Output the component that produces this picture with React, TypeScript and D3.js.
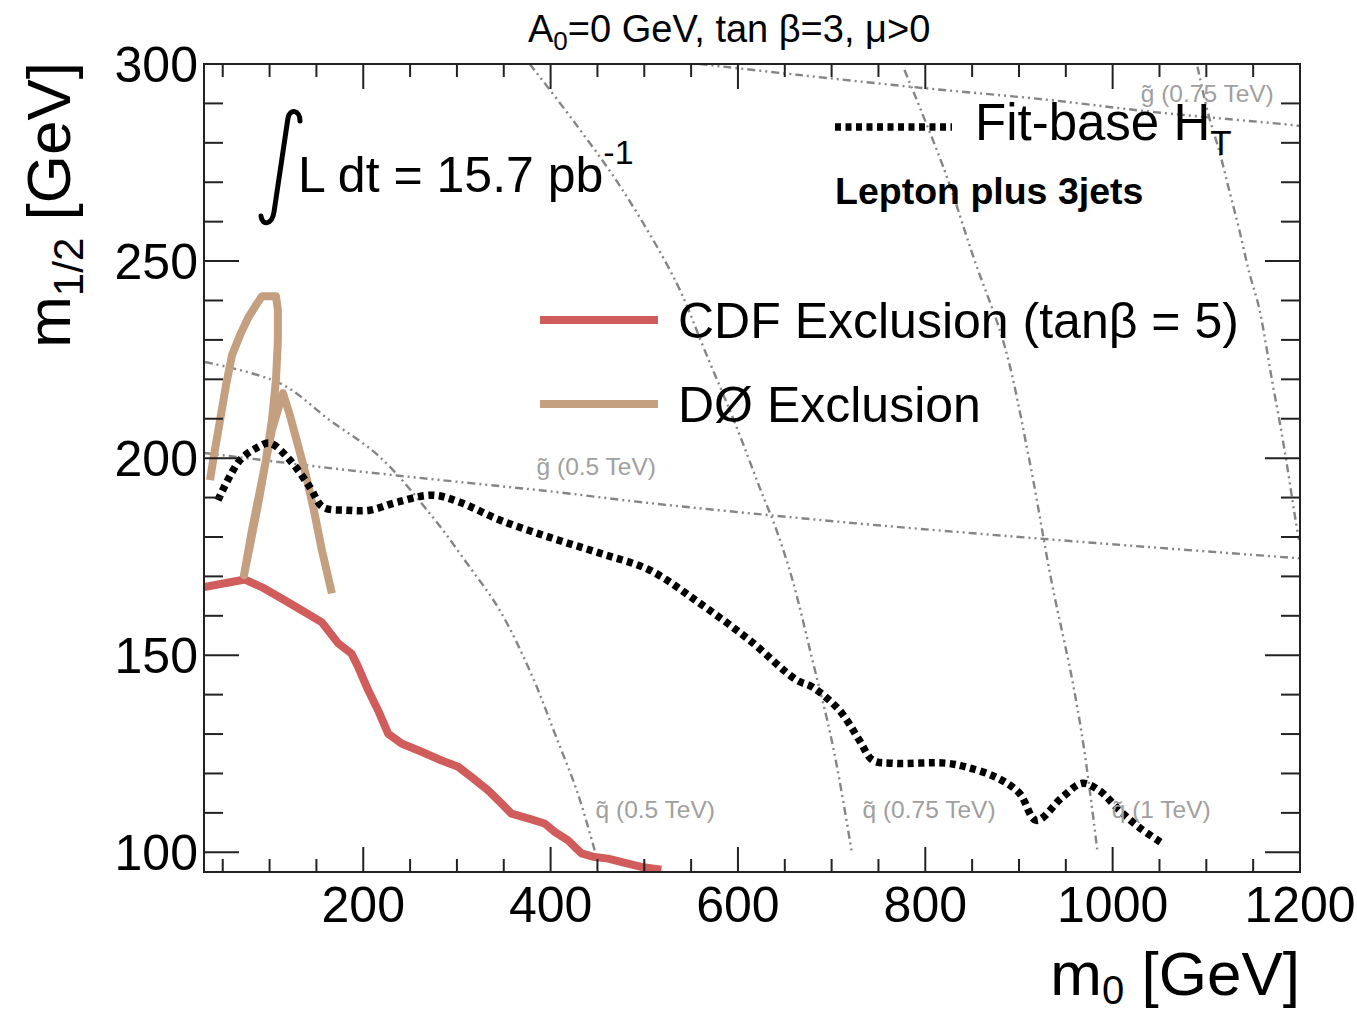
import React, { useEffect, useRef } from "react";
import * as d3 from "d3";

// exclusion contours, [m0, m1/2] in GeV
const cdfExclusion: [number, number][] = [
  [30.3, 167.3], [73.7, 169.2], [91.5, 167.3], [112.9, 164.4], [134.2, 161.4],
  [155.5, 158.4], [162.6, 156.3], [173.3, 153.0], [187.5, 150.4], [194.6, 147.0],
  [205.3, 141.1], [215.9, 136.0], [226.6, 130.1], [240.9, 127.6], [262.2, 125.5],
  [283.5, 123.3], [301.3, 121.7], [315.5, 119.1], [333.3, 115.7], [347.5, 112.4],
  [358.2, 109.8], [375.9, 108.6], [393.7, 107.3], [404.4, 105.2], [418.6, 103.0],
  [432.9, 99.7], [447.1, 98.8], [461.3, 98.4], [482.6, 97.1], [496.9, 96.3],
  [518.2, 95.6],
];

const d0Exclusion: [number, number][] = [
  [36.4, 194.4], [40.7, 200.8], [47.1, 209.6], [53.5, 218.5], [59.9, 226.1],
  [68.4, 231.2], [76.9, 235.5], [85.5, 238.8], [91.9, 241.1], [106.8, 241.1],
  [108.9, 237.6], [108.9, 230.0], [106.8, 219.8], [102.5, 209.6], [96.1, 199.5],
  [87.6, 188.1], [79.1, 177.9], [72.7, 170.3], [81.2, 181.7], [91.9, 194.4],
  [102.5, 207.1], [114.3, 216.5], [121.7, 210.9], [130.3, 203.3], [138.8, 195.7],
  [147.3, 186.8], [155.9, 176.6], [166.5, 165.7],
];

const fitBaseHT: [number, number][] = [
  [44.9, 189.3], [68.4, 199.5], [87.6, 202.8], [100.4, 203.8], [121.7, 199.5],
  [143.1, 192.6], [156.9, 187.6], [182.5, 186.8], [207.1, 186.8], [235.9, 188.8],
  [274.3, 190.6], [303.1, 188.8], [345.7, 184.3], [399.1, 179.9], [452.4, 175.9],
  [505.7, 171.6], [559.1, 163.2], [612.4, 153.8], [662.5, 143.7], [679.6, 141.9],
  [708.4, 136.0], [729.7, 128.4], [743.6, 123.4], [764.9, 122.6], [822.5, 122.6],
  [843.9, 121.6], [875.9, 119.0], [900.4, 115.0], [918.5, 108.1], [946.3, 114.0],
  [967.6, 117.5], [985.7, 115.7], [1007.1, 110.7], [1028.4, 106.3], [1052.9, 102.3],
];

// iso-mass reference lines
const gluino500: [number, number][] = [
  [31, 201.3], [185.7, 196.9], [345.7, 192.9], [399, 191.6], [505.7, 188.6],
  [665.7, 184.8], [772.4, 182.5], [985.7, 178.4], [1199, 174.6],
];
const gluino750: [number, number][] = [
  [559.1, 300], [665.7, 297.2], [798, 293.9], [931.3, 290.9], [1044.4, 287.8],
  [1192.7, 284.5], [1199, 284.3],
];
const squark500: [number, number][] = [
  [31.1, 224.4], [111.1, 219.0], [164.4, 209.6], [217.7, 200.3], [274.3, 185.0],
  [310.5, 173.4], [345.7, 161.4], [380.9, 144.4], [404.4, 130.2], [428.9, 115.0],
  [447.1, 100.5],
];
const squark750: [number, number][] = [
  [377.7, 300], [423.6, 285.8], [476.9, 268.0], [534.5, 244.4], [564.4, 227.4],
  [598.5, 207.9], [623.1, 192.6], [641.2, 181.7], [658.3, 169.0], [679.6, 148.7],
  [697.7, 131.0], [708.4, 118.3], [721.2, 100.5],
];
const squark1000: [number, number][] = [
  [777.7, 298.5], [820.4, 273.1], [852.4, 250.3], [884.4, 228.7], [911.1, 199.5],
  [934.5, 169.0], [956.9, 143.7], [969.7, 125.9], [983.6, 100.5],
];
const squark1250: [number, number][] = [
  [1090.6, 299.3], [1101.3, 288.0], [1113.7, 278.0], [1124.4, 268.0], [1135.1, 258.0],
  [1145.7, 247.2], [1156.4, 238.1], [1163.5, 229.0], [1170.6, 219.1], [1177.7, 210.0],
  [1184.9, 200.0], [1192.0, 189.2], [1195.6, 183.8], [1199, 179.2],
];

const refLabels = [
  { text: "g\u0303 (0.5 TeV)", m0: 385, m12: 195.8 },
  { text: "g\u0303 (0.75 TeV)", m0: 1030, m12: 290.4 },
  { text: "q\u0303 (0.5 TeV)", m0: 448, m12: 108.7 },
  { text: "q\u0303 (0.75 TeV)", m0: 733, m12: 108.7 },
  { text: "q\u0303 (1 TeV)", m0: 999, m12: 108.7 },
];

const xTickLabels = [200, 400, 600, 800, 1000, 1200];
const yTickLabels = [100, 150, 200, 250, 300];

const FONT = "'Liberation Sans', Arial, Helvetica, sans-serif";
const RED = "#d05c5c";
const TAN = "#c4a080";
const GREY = "#858585";

export default function App() {
  const ref = useRef<SVGSVGElement | null>(null);

  useEffect(() => {
    const svg = d3.select(ref.current);
    svg.selectAll("*").remove();

    const x = d3.scaleLinear().domain([30, 1200]).range([204, 1300]);
    const y = d3.scaleLinear().domain([95, 300]).range([872, 64]);
    const [x0, x1] = x.range();
    const [y1, y0] = y.range();

    svg
      .append("defs")
      .append("clipPath")
      .attr("id", "plot-clip")
      .append("rect")
      .attr("x", x0)
      .attr("y", y0)
      .attr("width", x1 - x0)
      .attr("height", y1 - y0);

    const plot = svg.append("g").attr("clip-path", "url(#plot-clip)");

    const smooth = d3
      .line<[number, number]>()
      .x((d) => x(d[0]))
      .y((d) => y(d[1]))
      .curve(d3.curveCatmullRom);
    const straight = d3
      .line<[number, number]>()
      .x((d) => x(d[0]))
      .y((d) => y(d[1]));

    // grey dash-dot reference lines
    [gluino500, gluino750, squark500, squark750, squark1000, squark1250].forEach((pts) => {
      plot
        .append("path")
        .attr("d", smooth(pts))
        .attr("fill", "none")
        .attr("stroke", GREY)
        .attr("stroke-width", 2.4)
        .attr("stroke-dasharray", "8 4 2 4 2 4");
    });

    plot
      .append("path")
      .attr("d", straight(cdfExclusion))
      .attr("fill", "none")
      .attr("stroke", RED)
      .attr("stroke-width", 8)
      .attr("stroke-linejoin", "round");

    plot
      .append("path")
      .attr("d", straight(d0Exclusion))
      .attr("fill", "none")
      .attr("stroke", TAN)
      .attr("stroke-width", 8)
      .attr("stroke-linejoin", "round");

    plot
      .append("path")
      .attr("d", smooth(fitBaseHT))
      .attr("fill", "none")
      .attr("stroke", "#000")
      .attr("stroke-width", 7.5)
      .attr("stroke-dasharray", "6 4.5");

    // grey labels of the reference lines
    svg
      .append("g")
      .selectAll("text")
      .data(refLabels)
      .join("text")
      .attr("x", (d) => x(d.m0))
      .attr("y", (d) => y(d.m12))
      .attr("font-family", FONT)
      .attr("font-size", 24.5)
      .attr("fill", "#a0a0a0")
      .text((d) => d.text);

    // frame
    svg
      .append("rect")
      .attr("x", x0)
      .attr("y", y0)
      .attr("width", x1 - x0)
      .attr("height", y1 - y0)
      .attr("fill", "none")
      .attr("stroke", "#222")
      .attr("stroke-width", 2);

    // ticks on all four sides
    const ticks = svg.append("g").attr("stroke", "#222").attr("stroke-width", 2);
    d3.range(50, 1201, 50).forEach((v) => {
      const len = v % 200 === 0 ? 25 : 13;
      ticks.append("line").attr("x1", x(v)).attr("x2", x(v)).attr("y1", y1).attr("y2", y1 - len);
      ticks.append("line").attr("x1", x(v)).attr("x2", x(v)).attr("y1", y0).attr("y2", y0 + len);
    });
    d3.range(100, 301, 10).forEach((v) => {
      const len = v % 50 === 0 ? 35 : 19;
      ticks.append("line").attr("x1", x0).attr("x2", x0 + len).attr("y1", y(v)).attr("y2", y(v));
      ticks.append("line").attr("x1", x1).attr("x2", x1 - len).attr("y1", y(v)).attr("y2", y(v));
    });

    const labels = svg.append("g").attr("font-family", FONT).attr("font-size", 50).attr("fill", "#000");
    labels
      .selectAll(".xl")
      .data(xTickLabels)
      .join("text")
      .attr("x", (d) => x(d))
      .attr("y", 922)
      .attr("text-anchor", "middle")
      .text((d) => d);
    labels
      .selectAll(".yl")
      .data(yTickLabels)
      .join("text")
      .attr("x", 198)
      .attr("y", (d) => y(d) + 18)
      .attr("text-anchor", "end")
      .text((d) => d);

    // axis titles
    const xt = svg
      .append("text")
      .attr("x", 1300)
      .attr("y", 995)
      .attr("text-anchor", "end")
      .attr("font-family", FONT)
      .attr("font-size", 62);
    xt.append("tspan").text("m");
    xt.append("tspan").attr("font-size", 40).attr("dy", 9).text("0");
    xt.append("tspan").attr("dy", -9).text(" [GeV]");

    const yt = svg
      .append("text")
      .attr("transform", "translate(70,62) rotate(-90)")
      .attr("text-anchor", "end")
      .attr("font-family", FONT)
      .attr("font-size", 62);
    yt.append("tspan").text("m");
    yt.append("tspan").attr("font-size", 42).attr("dy", 13).text("1/2");
    yt.append("tspan").attr("dy", -13).text(" [GeV]");

    // header
    const title = svg
      .append("text")
      .attr("x", 528)
      .attr("y", 42)
      .attr("font-family", FONT)
      .attr("font-size", 38);
    title.append("tspan").text("A");
    title.append("tspan").attr("font-size", 26).attr("dy", 8).text("0");
    title.append("tspan").attr("dy", -8).text("=0 GeV, tan \u03b2=3, \u03bc>0");

    // luminosity
    svg
      .append("path")
      .attr("d", "M 300 121 C 300 110, 290 108, 288 118 L 274 212 C 272 225, 262 226, 261 216")
      .attr("fill", "none")
      .attr("stroke", "#000")
      .attr("stroke-width", 5)
      .attr("stroke-linecap", "round");
    const lumi = svg
      .append("text")
      .attr("x", 298)
      .attr("y", 192)
      .attr("font-family", FONT)
      .attr("font-size", 50);
    lumi.append("tspan").text("L dt = 15.7 pb");
    lumi.append("tspan").attr("font-size", 34).attr("dy", -28).text("-1");

    // legend
    svg
      .append("line")
      .attr("x1", 835)
      .attr("x2", 952)
      .attr("y1", 127)
      .attr("y2", 127)
      .attr("stroke", "#000")
      .attr("stroke-width", 7.5)
      .attr("stroke-dasharray", "6 4.5");
    const fit = svg
      .append("text")
      .attr("x", 975)
      .attr("y", 140)
      .attr("font-family", FONT)
      .attr("font-size", 51);
    fit.append("tspan").text("Fit-base H");
    fit.append("tspan").attr("font-size", 35).attr("dy", 15).text("T");

    svg
      .append("text")
      .attr("x", 835)
      .attr("y", 204)
      .attr("font-family", FONT)
      .attr("font-weight", "bold")
      .attr("font-size", 37.5)
      .text("Lepton plus 3jets");

    const legendRows = [
      { color: RED, label: "CDF Exclusion (tan\u03b2 = 5)", yy: 320 },
      { color: TAN, label: "D\u00d8 Exclusion", yy: 404 },
    ];
    legendRows.forEach((r) => {
      svg
        .append("line")
        .attr("x1", 540)
        .attr("x2", 658)
        .attr("y1", r.yy)
        .attr("y2", r.yy)
        .attr("stroke", r.color)
        .attr("stroke-width", 8);
      svg
        .append("text")
        .attr("x", 678)
        .attr("y", r.yy + 18)
        .attr("font-family", FONT)
        .attr("font-size", 50)
        .text(r.label);
    });
  }, []);

  return (
    <div>
      <svg
        ref={ref}
        width={1357}
        height={1014}
        style={{ position: "absolute", left: 0, top: 0, background: "#fff" }}
      />
    </div>
  );
}
